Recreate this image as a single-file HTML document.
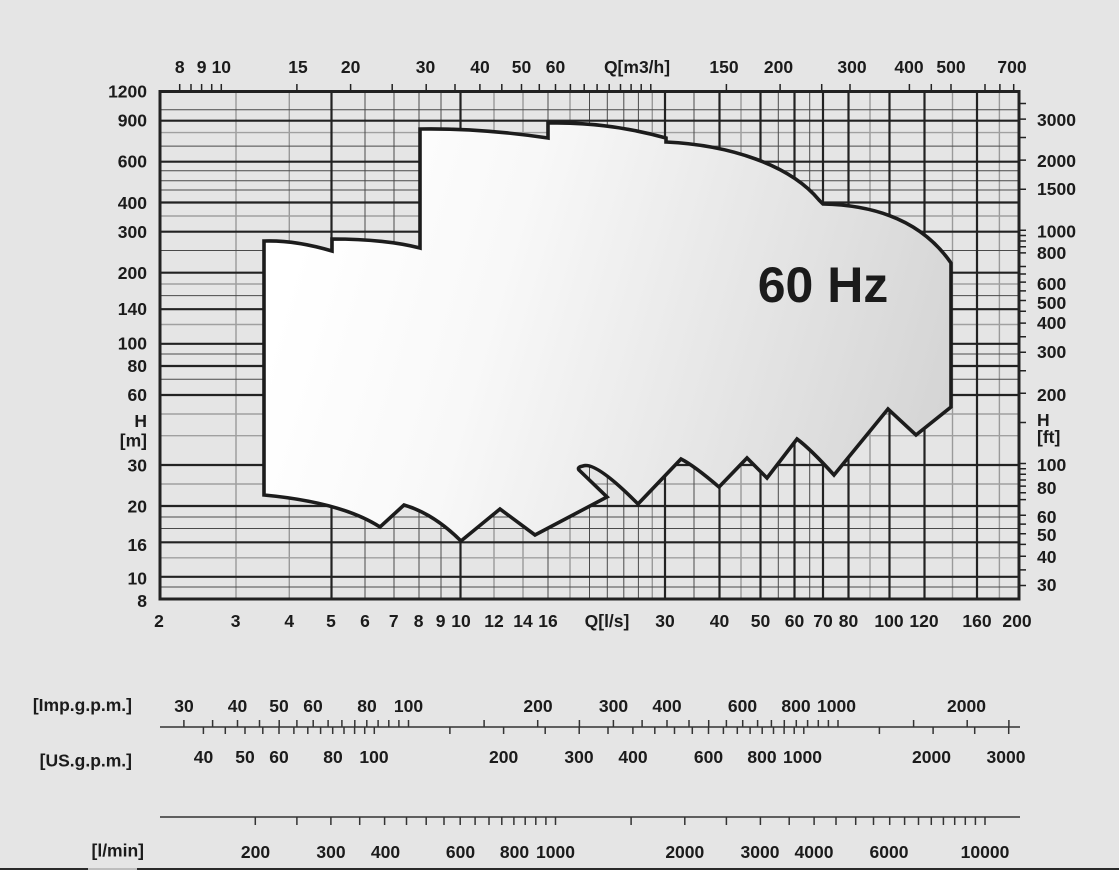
<!DOCTYPE html>
<html>
<head>
<meta charset="utf-8">
<style>
html,body{margin:0;padding:0;background:#e5e5e5;}
svg{display:block;}
text{font-family:"Liberation Sans",Arial,sans-serif;font-weight:bold;font-size:17.5px;fill:#1b1b1b;}
</style>
</head>
<body>
<svg width="1119" height="870" viewBox="0 0 1119 870" xmlns="http://www.w3.org/2000/svg">
<defs>
<linearGradient id="g" gradientUnits="userSpaceOnUse" x1="300" y1="240" x2="950" y2="430">
<stop offset="0" stop-color="#ffffff"/>
<stop offset="0.3" stop-color="#f8f8f8"/>
<stop offset="1" stop-color="#d4d4d4"/>
</linearGradient>
</defs>
<rect x="0" y="0" width="1119" height="870" fill="#e5e5e5"/>

<path stroke="#9a9a9a" stroke-width="1.4" fill="none" d="M236,91.5V599M289.3,91.5V599M494,91.5V599M523,91.5V599M570,91.5V599M652.3,91.5V599M741,91.5V599M870,91.5V599M952.5,91.5V599M999.4,91.5V599"/>
<path stroke="#a0a0a0" stroke-width="1.4" fill="none" d="M160,132.6H1019M160,216H1019M160,284H1019M160,324.5H1019M160,414H1019M160,435.7H1019M160,484H1019M160,557.8H1019"/>
<path stroke="#4a4a4a" stroke-width="1" fill="none" d="M365,91.5V599M394,91.5V599M419,91.5V599M441,91.5V599M548,91.5V599M589.5,91.5V599M607.3,91.5V599M623.8,91.5V599M638.4,91.5V599M694,91.5V599M778.3,91.5V599M809.7,91.5V599"/>
<path stroke="#4a4a4a" stroke-width="1" fill="none" d="M160,109.8H1019M160,146.1H1019M160,170.8H1019M160,180.8H1019M160,190H1019M160,250.5H1019M160,295.6H1019M160,354H1019M160,379.2H1019M160,517H1019M160,528.5H1019M160,587H1019"/>
<path stroke="#222" stroke-width="2.2" fill="none" d="M331.5,91.5V599M460.5,91.5V599M665,91.5V599M719.5,91.5V599M760.5,91.5V599M794.5,91.5V599M823,91.5V599M848.5,91.5V599M889.5,91.5V599M924.5,91.5V599M977,91.5V599"/>
<path stroke="#222" stroke-width="2.2" fill="none" d="M160,120.7H1019M160,161.7H1019M160,202.5H1019M160,231.7H1019M160,272.7H1019M160,309.2H1019M160,343.8H1019M160,366H1019M160,395H1019M160,465H1019M160,506H1019M160,542.3H1019M160,576.8H1019"/>

<path fill="url(#g)" stroke="#1c1c1c" stroke-width="3.6" stroke-linejoin="miter" d="M264,241 Q295,240 332,251 L332,239 Q385,239 420,248 L420,129 Q480,128 548,138 L548,123 C590,122 630,128 666,138 L666,142 C730,145 790,165 819,200 L823,204 C870,205 920,218 951,263 L951,407 L916,435 L888,409 L834,475 Q810.5,449 797,439 L767,478 L747,458 L719,487 Q694,465.6 681,459 L638,504 Q595.5,461 583,466 Q577,467 579,470 L607,497 L535,535 L500,509 L461,541 Q433.5,513.6 404,505 L380,527 Q342,502.4 264,495 Z"/>

<rect x="160" y="91.5" width="859" height="507.5" fill="none" stroke="#222" stroke-width="3"/>

<path stroke="#222" stroke-width="1.5" fill="none" d="M179.7,84V91.5M191,84V91.5M201.6,84V91.5M211.7,84V91.5M221.3,84V91.5M296.9,84V91.5M350.6,84V91.5M392.2,84V91.5M426.2,84V91.5M455,84V91.5M479.9,84V91.5M501.8,84V91.5M521.5,84V91.5M539.3,84V91.5M555.5,84V91.5M570.4,84V91.5M584.2,84V91.5M597.1,84V91.5M609.2,84V91.5M620.5,84V91.5M631.1,84V91.5M641.2,84V91.5M650.8,84V91.5M726.4,84V91.5M780.1,84V91.5M821.7,84V91.5M850,84V91.5M909.4,84V91.5M931.3,84V91.5M951,84V91.5M985,84V91.5M999.9,84V91.5M1013.7,84V91.5"/>
<path stroke="#222" stroke-width="1.5" fill="none" d="M1019,103.5H1026M1019,119.1H1026M1019,137.5H1026M1019,160.1H1026M1019,189.3H1026M1019,230.3H1026M1019,235.5H1026M1019,241H1026M1019,246.8H1026M1019,252.9H1026M1019,266.5H1026M1019,274H1026M1019,282.1H1026M1019,290.9H1026M1019,300.5H1026M1019,311.2H1026M1019,323.1H1026M1019,336.7H1026M1019,352.3H1026M1019,370.7H1026M1019,393.3H1026M1019,422.5H1026M1019,463.5H1026M1019,468.7H1026M1019,474.2H1026M1019,480H1026M1019,486.1H1026M1019,492.7H1026M1019,499.6H1026M1019,515.3H1026M1019,524.1H1026M1019,533.7H1026M1019,544.4H1026M1019,556.3H1026M1019,569.9H1026M1019,585.5H1026"/>

<g text-anchor="end">
<text x="147" y="97.5">1200</text>
<text x="147" y="126.7">900</text>
<text x="147" y="167.7">600</text>
<text x="147" y="208.8">400</text>
<text x="147" y="237.9">300</text>
<text x="147" y="279">200</text>
<text x="147" y="315">140</text>
<text x="147" y="349.5">100</text>
<text x="147" y="372">80</text>
<text x="147" y="401">60</text>
<text x="147" y="427">H</text>
<text x="147" y="446.5">[m]</text>
<text x="147" y="471.5">30</text>
<text x="147" y="512.5">20</text>
<text x="147" y="551">16</text>
<text x="147" y="584.5">10</text>
<text x="147" y="607">8</text>
</g>

<g text-anchor="start">
<text x="1037" y="126">3000</text>
<text x="1037" y="167">2000</text>
<text x="1037" y="195">1500</text>
<text x="1037" y="237.5">1000</text>
<text x="1037" y="259">800</text>
<text x="1037" y="290">600</text>
<text x="1037" y="309">500</text>
<text x="1037" y="329">400</text>
<text x="1037" y="358">300</text>
<text x="1037" y="401">200</text>
<text x="1037" y="426">H</text>
<text x="1037" y="443">[ft]</text>
<text x="1037" y="471">100</text>
<text x="1037" y="494">80</text>
<text x="1037" y="523">60</text>
<text x="1037" y="541">50</text>
<text x="1037" y="563">40</text>
<text x="1037" y="591">30</text>
</g>

<g text-anchor="middle">
<text x="179.7" y="73">8</text>
<text x="201.6" y="73">9</text>
<text x="221.3" y="73">10</text>
<text x="298" y="73">15</text>
<text x="350.6" y="73">20</text>
<text x="425.5" y="73">30</text>
<text x="480" y="73">40</text>
<text x="521.5" y="73">50</text>
<text x="555.5" y="73">60</text>
<text x="637" y="73">Q[m3/h]</text>
<text x="724" y="73">150</text>
<text x="778.5" y="73">200</text>
<text x="852" y="73">300</text>
<text x="909" y="73">400</text>
<text x="951" y="73">500</text>
<text x="1012" y="73">700</text>
</g>

<g text-anchor="middle">
<text x="159" y="627">2</text>
<text x="235.6" y="627">3</text>
<text x="289.3" y="627">4</text>
<text x="331" y="627">5</text>
<text x="365" y="627">6</text>
<text x="393.7" y="627">7</text>
<text x="418.6" y="627">8</text>
<text x="440.6" y="627">9</text>
<text x="461" y="627">10</text>
<text x="494" y="627">12</text>
<text x="523" y="627">14</text>
<text x="548" y="627">16</text>
<text x="607" y="627">Q[l/s]</text>
<text x="665" y="627">30</text>
<text x="719.5" y="627">40</text>
<text x="760.5" y="627">50</text>
<text x="794.5" y="627">60</text>
<text x="823" y="627">70</text>
<text x="848.5" y="627">80</text>
<text x="889" y="627">100</text>
<text x="924" y="627">120</text>
<text x="977" y="627">160</text>
<text x="1017" y="627">200</text>
</g>

<text x="823" y="302" text-anchor="middle" style="font-size:50px">60 Hz</text>

<path stroke="#333" stroke-width="1.5" fill="none" d="M160,727H1020M160,817H1020"/>
<path stroke="#333" stroke-width="1.5" fill="none" d="M183.9,720V727M212.6,720V727M237.5,720V727M259.5,720V727M279.2,720V727M296.9,720V727M313.2,720V727M328.1,720V727M341.9,720V727M354.8,720V727M366.8,720V727M378.1,720V727M388.8,720V727M398.9,720V727M408.5,720V727M484.1,720V727M537.7,720V727M579.4,720V727M613.4,720V727M642.1,720V727M667,720V727M689,720V727M708.7,720V727M726.4,720V727M742.7,720V727M757.6,720V727M771.4,720V727M784.3,720V727M796.3,720V727M807.6,720V727M818.3,720V727M828.4,720V727M838,720V727M913.6,720V727M967.2,720V727M1008.9,720V727"/>
<path stroke="#333" stroke-width="1.5" fill="none" d="M203.4,727V734M225.3,727V734M245,727V734M262.8,727V734M279,727V734M293.9,727V734M307.8,727V734M320.6,727V734M332.7,727V734M344,727V734M354.6,727V734M364.7,727V734M374.3,727V734M449.9,727V734M503.6,727V734M545.2,727V734M579.2,727V734M608,727V734M632.9,727V734M654.8,727V734M674.5,727V734M692.3,727V734M708.5,727V734M723.4,727V734M737.3,727V734M750.1,727V734M762.2,727V734M773.5,727V734M784.1,727V734M794.2,727V734M803.8,727V734M879.4,727V734M933.1,727V734M974.7,727V734M1008.7,727V734"/>
<path stroke="#333" stroke-width="1.5" fill="none" d="M255.3,817V825M296.9,817V825M330.9,817V825M359.7,817V825M384.6,817V825M406.5,817V825M426.2,817V825M444,817V825M460.2,817V825M475.1,817V825M489,817V825M501.8,817V825M513.9,817V825M525.2,817V825M535.8,817V825M545.9,817V825M555.5,817V825M631.1,817V825M684.8,817V825M726.4,817V825M760.4,817V825M789.2,817V825M814.1,817V825M836,817V825M855.7,817V825M873.5,817V825M889.7,817V825M904.6,817V825M918.5,817V825M931.3,817V825M943.4,817V825M954.7,817V825M965.3,817V825M975.4,817V825M985,817V825"/>

<g text-anchor="end">
<text x="132" y="711">[Imp.g.p.m.]</text>
<text x="132" y="766.5">[US.g.p.m.]</text>
<text x="144" y="856.5">[l/min]</text>
</g>

<g text-anchor="middle">
<text x="184" y="712">30</text>
<text x="237.5" y="712">40</text>
<text x="279" y="712">50</text>
<text x="313" y="712">60</text>
<text x="367" y="712">80</text>
<text x="408.5" y="712">100</text>
<text x="538" y="712">200</text>
<text x="613.5" y="712">300</text>
<text x="667" y="712">400</text>
<text x="742.5" y="712">600</text>
<text x="796" y="712">800</text>
<text x="836.5" y="712">1000</text>
<text x="966.5" y="712">2000</text>

<text x="203.5" y="763">40</text>
<text x="245" y="763">50</text>
<text x="279" y="763">60</text>
<text x="333" y="763">80</text>
<text x="374" y="763">100</text>
<text x="503.6" y="763">200</text>
<text x="579" y="763">300</text>
<text x="633" y="763">400</text>
<text x="708.5" y="763">600</text>
<text x="762" y="763">800</text>
<text x="802.5" y="763">1000</text>
<text x="931.5" y="763">2000</text>
<text x="1006" y="763">3000</text>

<text x="255.5" y="858">200</text>
<text x="331" y="858">300</text>
<text x="385.5" y="858">400</text>
<text x="460.5" y="858">600</text>
<text x="514.5" y="858">800</text>
<text x="555.5" y="858">1000</text>
<text x="684.8" y="858">2000</text>
<text x="760" y="858">3000</text>
<text x="814" y="858">4000</text>
<text x="889" y="858">6000</text>
<text x="985" y="858">10000</text>
</g>

<rect x="0" y="868" width="1119" height="2" fill="#2a2a2a"/>
<rect x="88" y="868" width="49" height="2" fill="#bdbdbd"/>
</svg>
</body>
</html>
